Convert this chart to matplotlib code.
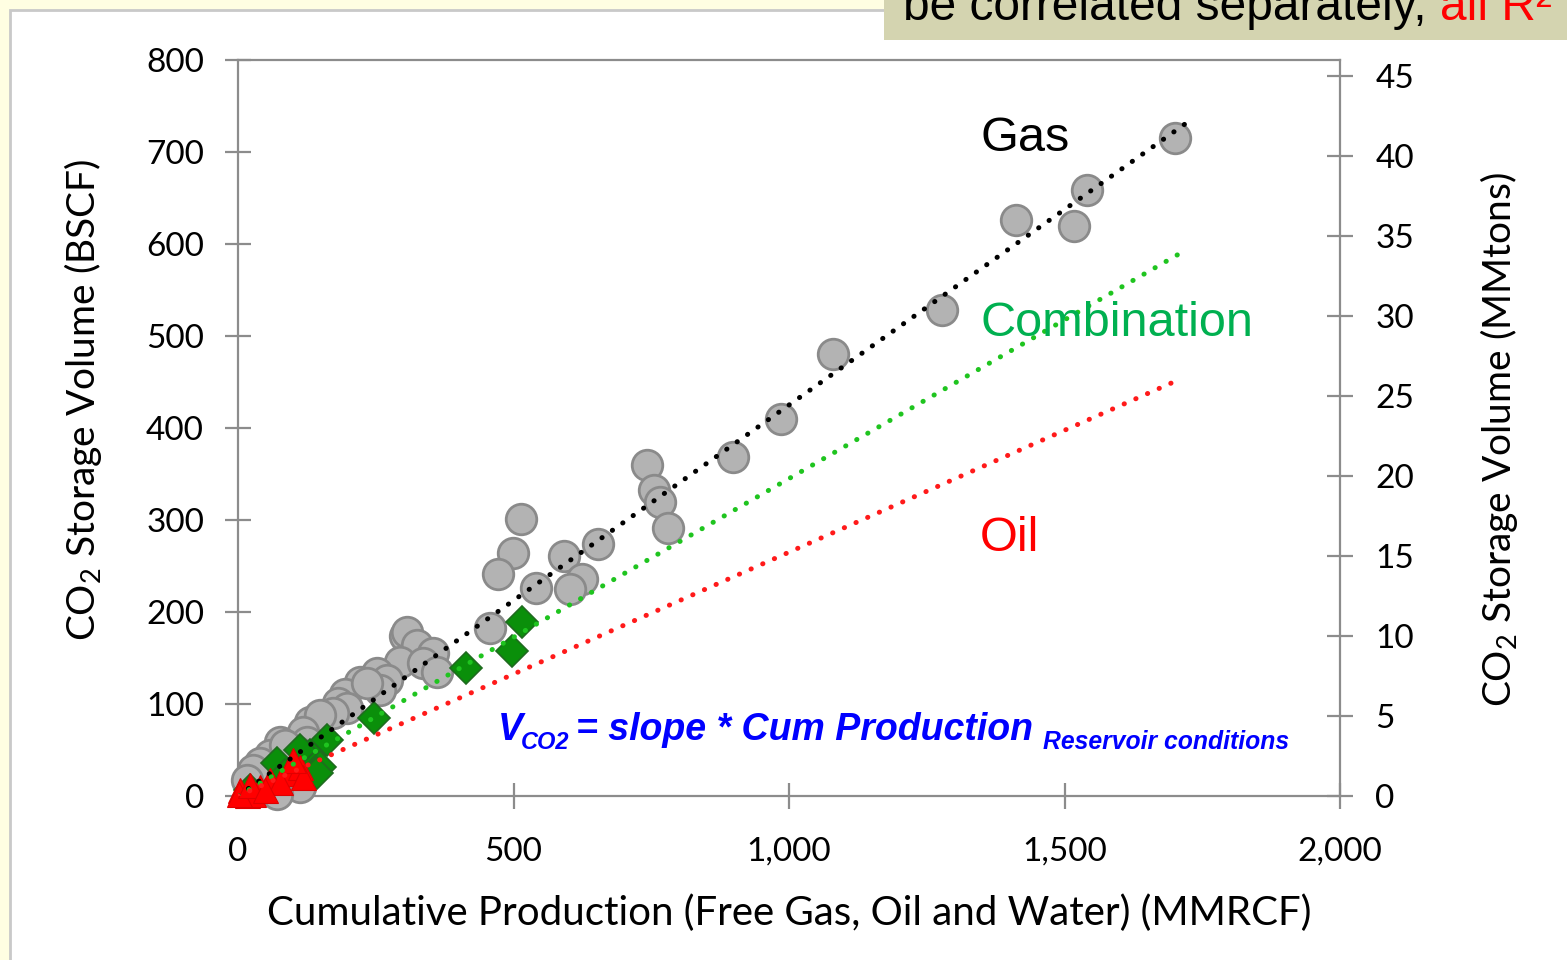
import matplotlib
matplotlib.use("Agg")
import matplotlib.pyplot as plt
from matplotlib.patches import Rectangle
from matplotlib.ticker import FuncFormatter

# ---------------- data ----------------
gas_x = [1700, 1541, 1412, 1517, 1278, 1080, 985, 898, 742, 755, 766, 780,
         514, 499, 472, 541, 592, 624, 603, 653, 457, 303, 348,
         307, 325, 354, 294, 336, 252, 221, 270, 258, 194, 181, 198, 172,
         131, 149, 118, 76, 125, 107, 58, 40, 27, 113, 71, 16, 234, 361, 85]
gas_y = [715, 659, 626, 620, 528, 480, 410, 368, 360, 333, 320, 291,
         301, 264, 241, 226, 261, 236, 225, 274, 183, 174, 148,
         178, 164, 155, 146, 145, 134, 124, 126, 115, 111, 101, 96, 90,
         80, 88, 70, 59, 59, 48, 45, 36, 28, 10, 2, 17, 123, 135, 55]

comb_x = [515, 497, 414, 247, 162, 131, 71, 149, 143, 113, 85, 22]
comb_y = [189, 158, 139, 85, 61, 45, 36, 32, 25, 50, 23, 7]

oil_x = [4, 16, 40, 58, 89, 113, 118, 27, 76, 100, 2, 22, 49]
oil_y = [7, 1, 10, 17, 25, 32, 21, 2, 15, 39, 2, 12, 7]

gas_slope, comb_slope, oil_slope = 0.425, 0.345, 0.265
gas_end, comb_end, oil_end = 1719, 1710, 1697

x_ticks = [0, 500, 1000, 1500, 2000]
y_ticks = [0, 100, 200, 300, 400, 500, 600, 700, 800]
y2_ticks = [0, 5, 10, 15, 20, 25, 30, 35, 40, 45]

W, H = 1567, 960
plt.rcParams["mathtext.fontset"] = "custom"
plt.rcParams["mathtext.rm"] = "Lato"
plt.rcParams["mathtext.it"] = "Lato:italic"

fig = plt.figure(figsize=(W / 100, H / 100), dpi=100)
fig.patch.set_facecolor("#fffee2")


def fx(px):
    return px / W


def fy(py):
    return 1 - py / H


# white panel with grey border
fig.patches.append(Rectangle((fx(10), fy(975)), fx(1600) - fx(10), fy(10) - fy(975),
                             transform=fig.transFigure, facecolor="white",
                             edgecolor="#c9c9c9", linewidth=2, zorder=-3))
# olive title box top-right
fig.patches.append(Rectangle((fx(884), fy(40)), fx(1600) - fx(884), fy(-10) - fy(40),
                             transform=fig.transFigure, facecolor="#d4d4b0",
                             edgecolor="none", zorder=-2))
t1 = fig.text(fx(903), fy(20), "be correlated separately, ", fontsize=34.5,
              family="Liberation Sans", color="black", va="baseline", ha="left", zorder=2)
fig.canvas.draw()
bb = t1.get_window_extent()
fig.text(bb.x1 / W, fy(20), "all R\u00b2", fontsize=34.5,
         family="Liberation Sans", color="#ff0000", va="baseline", ha="left", zorder=2)

ax = fig.add_axes([fx(238), fy(796), fx(1340) - fx(238), fy(60) - fy(796)])
ax.set_facecolor("none")
ax.set_xlim(0, 2000)
ax.set_ylim(0, 800)

mk = dict(linestyle="none", clip_on=False)
ax.plot(gas_x, gas_y, marker="o", markersize=22, markerfacecolor="#b3b3b3",
        markeredgecolor="#8a8a8a", markeredgewidth=2, zorder=3, **mk)
ax.plot(comb_x, comb_y, marker="D", markersize=16, markerfacecolor="#0a8f0a",
        markeredgecolor="#1f6b1f", markeredgewidth=1.2, zorder=4, **mk)
ax.plot(oil_x, oil_y, marker="^", markersize=18, markerfacecolor="#ff0000",
        markeredgecolor="#e00000", markeredgewidth=0.8, zorder=5, **mk)

ls = dict(linestyle=(0, (0.05, 2.5)), dash_capstyle="round", linewidth=3.6, zorder=6)
ax.plot([0, gas_end], [0, gas_slope * gas_end], color="black", **ls)
ax.plot([0, comb_end], [0, comb_slope * comb_end], color="#1fc41f", **ls)
ax.plot([0, oil_end], [0, oil_slope * oil_end], color="#ff1a1a", **ls)

# curve labels
ax.text(1428, 715, "Gas", fontsize=35, family="Liberation Sans", color="black",
        ha="center", va="center", zorder=7)
ax.text(1347, 514, "Combination", fontsize=35, family="Liberation Sans", color="#00b050",
        ha="left", va="center", zorder=7)
ax.text(1347, 280, "Oil", fontsize=35, family="Liberation Sans", color="#ff0000",
        ha="left", va="center", zorder=7)

spine_c = "#8c8c8c"
for s in ax.spines.values():
    s.set_color(spine_c)
    s.set_linewidth(1.6)

ax.set_xticks(x_ticks)
ax.set_yticks(y_ticks)
ax.xaxis.set_major_formatter(FuncFormatter(lambda v, p: f"{int(v):,}"))
ax.tick_params(axis="both", direction="inout", length=19, width=1.6, color=spine_c,
               labelsize=24)
ax.tick_params(axis="x", pad=20)
ax.tick_params(axis="y", right=False, pad=15)
for lab in ax.get_xticklabels() + ax.get_yticklabels():
    lab.set_family("Lato")

ax.set_xlabel("Cumulative Production (Free Gas, Oil and Water) (MMRCF)",
              family="Lato", fontsize=29)
ax.xaxis.set_label_coords(0.5, -0.133)
ax.set_ylabel("CO$_2$ Storage Volume (BSCF)", family="Lato", fontsize=28)
ax.yaxis.set_label_coords(-0.122, 0.538)

ax2 = ax.twinx()
ax2.set_ylim(0, 46)
ax2.set_yticks(y2_ticks)
for s in ax2.spines.values():
    s.set_visible(False)
ax2.tick_params(axis="y", direction="inout", length=19, width=1.6, color=spine_c,
                labelsize=24, pad=16)
for lab in ax2.get_yticklabels():
    lab.set_family("Lato")
ax2.set_ylabel("CO$_2$ Storage Volume (MMtons)", family="Lato", fontsize=28)
ax2.yaxis.set_label_coords(1.1252, 0.484)

# formula annotation
blue = "#0000ff"
ff = ["Liberation Sans Narrow", "Liberation Sans"]
fig.text(fx(498), fy(740), "V", fontsize=27, family=ff, weight="bold", style="italic",
         color=blue, va="baseline")
fig.text(fx(521), fy(749), "CO2", fontsize=17, family=ff, weight="bold", style="italic",
         color=blue, va="baseline")
fig.text(fx(576), fy(740), "= slope * Cum Production", fontsize=27, family=ff,
         weight="bold", style="italic", color=blue, va="baseline")
fig.text(fx(1043), fy(749), "Reservoir conditions", fontsize=17.8, family=ff,
         weight="bold", style="italic", color=blue, va="baseline")

fig.savefig("out.png", dpi=100, facecolor=fig.get_facecolor())
